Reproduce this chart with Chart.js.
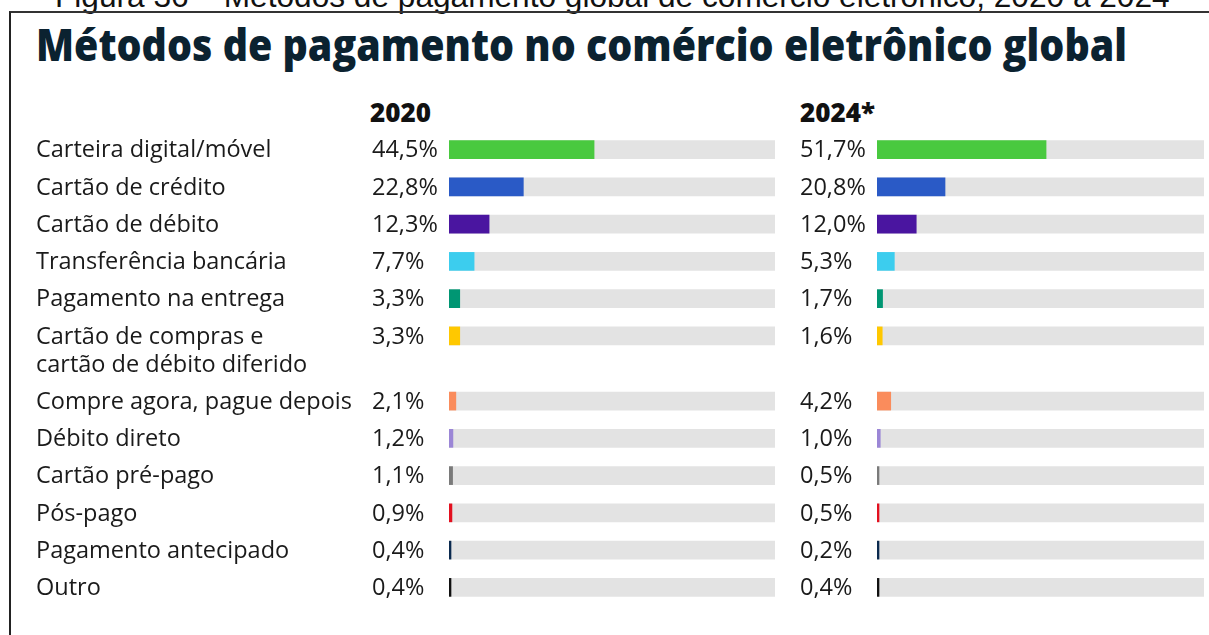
<!DOCTYPE html>
<html lang="pt-BR">
<head>
<meta charset="utf-8">
<title>Métodos de pagamento no comércio eletrônico global</title>
<script src="https://cdn.jsdelivr.net/npm/chart.js@4.4.1/dist/chart.umd.min.js"></script>
<style>
  html, body { margin: 0; padding: 0; background: #fff; }
  body { width: 1209px; height: 635px; position: relative; overflow: hidden; }
  .caption {
    position: absolute; left: 55px; top: -21px; line-height: 31px;
    font: 31px "Liberation Sans", Arial, sans-serif; color: #111; white-space: nowrap;
    transform-origin: left top;
  }
  .frame {
    position: absolute; left: 9px; top: 11px; width: 1400px; height: 800px;
    border-left: 2px solid #222; border-top: 2px solid #333;
  }
  .title {
    position: absolute; left: 36px; top: 14px; margin: 0; line-height: 60px;
    font: 800 44px "Open Sans", sans-serif; color: #0b2230; white-space: nowrap;
    transform-origin: left top;
  }
  .year {
    position: absolute; top: 94px; margin: 0; line-height: 34px;
    font: 800 26px "Open Sans", sans-serif; color: #111;
  }
  canvas { position: absolute; }
</style>
</head>
<body>
<div class="caption" data-w="1115">Figura 36 – Métodos de pagamento global de comércio eletrônico, 2020 a 2024</div>
<div class="frame"></div>
<h1 class="title" data-w="1091">Métodos de pagamento no comércio eletrônico global</h1>
<div class="year" style="left:370px">2020</div>
<div class="year" style="left:800px">2024*</div>
<canvas id="chart2020" width="780" height="475" style="left:0;top:131px"></canvas>
<canvas id="chart2024" width="429" height="475" style="left:780px;top:131px"></canvas>

<script>
// ── dados ─────────────────────────────────
const METHODS = [
  "Carteira digital/móvel",
  "Cartão de crédito",
  "Cartão de débito",
  "Transferência bancária",
  "Pagamento na entrega",
  ["Cartão de compras e", "cartão de débito diferido"],
  "Compre agora, pague depois",
  "Débito direto",
  "Cartão pré-pago",
  "Pós-pago",
  "Pagamento antecipado",
  "Outro"
];
const SHARE_2020 = [44.5, 22.8, 12.3, 7.7, 3.3, 3.3, 2.1, 1.2, 1.1, 0.9, 0.4, 0.4];
const SHARE_2024 = [51.7, 20.8, 12.0, 5.3, 1.7, 1.6, 4.2, 1.0, 0.5, 0.5, 0.2, 0.4];
const FULL = 100;

const COLORS = [
  "#49c93f", "#2a5ac6", "#4a15a0", "#3ccdee", "#009673", "#ffc800",
  "#fa8c5c", "#9b86d6", "#7a7a7a", "#e3101f", "#0b2a4f", "#111111"
];
const TRACK = "#e3e3e3";
const TEXT_FONT = '23.5px "Open Sans", sans-serif';
const LINE_STEP = 0.75;   // extra row height for each additional label line

// squeeze headings to their set width (heavy condensed face is not installed)
document.querySelectorAll("[data-w]").forEach(el => {
  el.style.transform = `scaleX(${el.dataset.w / el.scrollWidth})`;
});

// row positions: a two-line label pushes the following rows down
const rowPos = [];
{
  let acc = 0;
  METHODS.forEach(m => {
    rowPos.push(acc);
    const lines = Array.isArray(m) ? m.length : 1;
    acc += 1 + (lines - 1) * LINE_STEP;
  });
}

const fmt = v => v.toFixed(1).replace(".", ",") + "%";

// draws category names (left panel only) and the value text before each track
const labelPlugin = {
  id: "rowLabels",
  afterDatasetsDraw(chart, args, opts) {
    const { ctx, chartArea, scales } = chart;
    const lineH = scales.y.getPixelForValue(LINE_STEP) - scales.y.getPixelForValue(0);
    ctx.save();
    ctx.font = TEXT_FONT;
    ctx.fillStyle = "#1a1a1a";
    ctx.textBaseline = "middle";
    ctx.textAlign = "left";
    opts.values.forEach((v, i) => {
      const y = scales.y.getPixelForValue(rowPos[i]) + 1;
      ctx.fillText(fmt(v), chartArea.left - 77, y);
      if (opts.names) {
        const lines = [].concat(METHODS[i]);
        lines.forEach((t, k) => ctx.fillText(t, 36, y + k * lineH));
      }
    });
    ctx.restore();
  }
};

function makeChart(id, values, showNames, padLeft) {
  return new Chart(document.getElementById(id), {
    type: "bar",
    data: {
      datasets: [
        {
          data: values.map((v, i) => ({ x: v, y: rowPos[i] })),
          backgroundColor: COLORS,
          barThickness: 18,
          minBarLength: 2,
          grouped: false,
          borderWidth: 0
        },
        {
          data: rowPos.map(y => ({ x: FULL, y })),
          backgroundColor: TRACK,
          barThickness: 18,
          grouped: false,
          borderWidth: 0
        }
      ]
    },
    options: {
      indexAxis: "y",
      responsive: false,
      animation: false,
      devicePixelRatio: 1,
      layout: { autoPadding: false, padding: { left: padLeft, right: 5, top: 0, bottom: 0 } },
      plugins: {
        legend: { display: false },
        tooltip: { enabled: false },
        rowLabels: { values, names: showNames }
      },
      scales: {
        x: { type: "linear", min: 0, max: FULL, display: false },
        y: {
          type: "linear", reverse: true, display: false, offset: false,
          grid: { offset: false },
          min: -0.5, max: rowPos[rowPos.length - 1] + 0.5
        }
      }
    },
    plugins: [labelPlugin]
  });
}

makeChart("chart2020", SHARE_2020, true, 449);
makeChart("chart2024", SHARE_2024, false, 97);
</script>
</body>
</html>
